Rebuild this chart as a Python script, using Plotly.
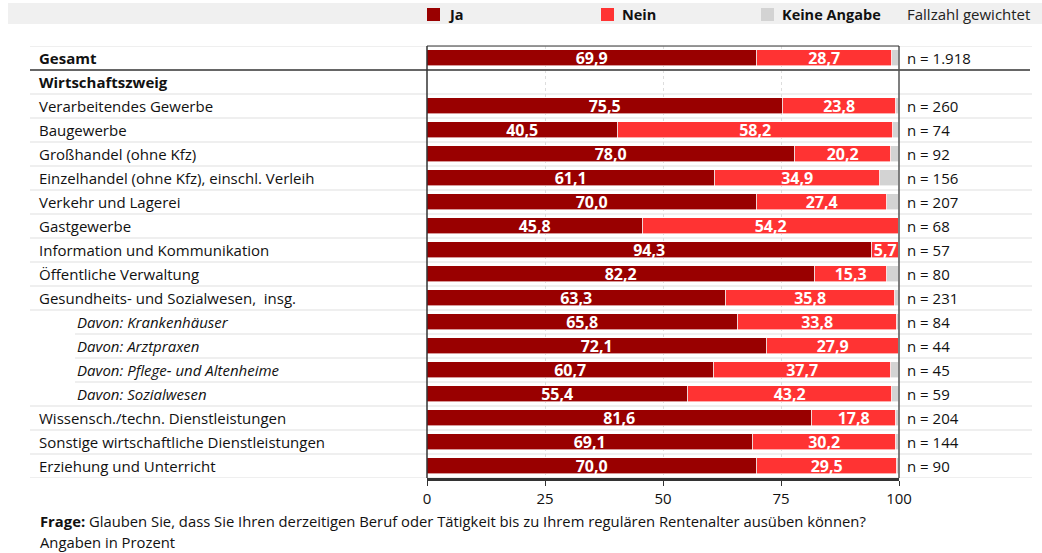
import plotly.graph_objects as go

categories = [
    "Gesamt", "Wirtschaftszweig", "Verarbeitendes Gewerbe", "Baugewerbe",
    "Großhandel (ohne Kfz)", "Einzelhandel (ohne Kfz), einschl. Verleih",
    "Verkehr und Lagerei", "Gastgewerbe", "Information und Kommunikation",
    "Öffentliche Verwaltung", "Gesundheits- und Sozialwesen,  insg.",
    "Davon: Krankenhäuser", "Davon: Arztpraxen", "Davon: Pflege- und Altenheime",
    "Davon: Sozialwesen", "Wissensch./techn. Dienstleistungen",
    "Sonstige wirtschaftliche Dienstleistungen", "Erziehung und Unterricht",
]
ja = [69.9, None, 75.5, 40.5, 78.0, 61.1, 70.0, 45.8, 94.3, 82.2, 63.3, 65.8, 72.1, 60.7, 55.4, 81.6, 69.1, 70.0]
nein = [28.7, None, 23.8, 58.2, 20.2, 34.9, 27.4, 54.2, 5.7, 15.3, 35.8, 33.8, 27.9, 37.7, 43.2, 17.8, 30.2, 29.5]
keine = [1.4, None, 0.7, 1.3, 1.8, 4.0, 2.6, 0.0, 0.0, 2.5, 0.9, 0.4, 0.0, 1.6, 1.4, 0.6, 0.7, 0.5]
fallzahl = ["n = 1.918", "", "n = 260", "n = 74", "n = 92", "n = 156", "n = 207", "n = 68", "n = 57",
            "n = 80", "n = 231", "n = 84", "n = 44", "n = 45", "n = 59", "n = 204", "n = 144", "n = 90"]
x_ticks = [0, 25, 50, 75, 100]

C_JA = "#990000"
C_NEIN = "#FF3333"
C_KEINE = "#D3D3D3"
FONT = "Open Sans"
FS = 15

W, H = 1042, 553
L, R, T, B = 427, 899, 46, 478
pw, ph = R - L, B - T


def px(x):
    return (x - L) / pw


def py(y):
    return (B - y) / ph


def fmt(v):
    return "" if v is None else f"{v:.1f}".replace(".", ",")


ypos = list(range(len(categories)))

fig = go.Figure()
for vals, col, show_text in [(ja, C_JA, True), (nein, C_NEIN, True), (keine, C_KEINE, False)]:
    fig.add_trace(go.Bar(
        y=ypos, x=vals, orientation="h", marker=dict(color=col, line=dict(color="white", width=0.6)),
        width=0.66,
        text=[f"<b>{fmt(v)}</b>" if (show_text and v) else "" for v in vals],
        textposition="inside", insidetextanchor="middle", textangle=0, constraintext="none",
        textfont=dict(color="white", size=16, family=FONT),
        cliponaxis=False,
        showlegend=False, hoverinfo="skip",
    ))

shapes = []
# legend band
shapes.append(dict(type="rect", xref="paper", yref="paper", x0=px(8), x1=px(1042), y0=py(24), y1=py(3),
                   fillcolor="#F0F0F0", line=dict(width=0), layer="below"))
# row separators
for i in range(len(categories) + 1):
    yb = i - 0.5
    x0 = 30
    if 0 < i < len(categories):
        if categories[i - 1].startswith("Davon") and categories[i].startswith("Davon"):
            x0 = 75
    if i == 1:
        continue
    shapes.append(dict(type="line", xref="paper", yref="y", x0=px(x0), x1=px(1032), y0=yb, y1=yb,
                       line=dict(color="#EFEFEF", width=2), layer="below"))
# dark line under Gesamt
shapes.append(dict(type="line", xref="paper", yref="y", x0=px(30), x1=px(1030), y0=0.5, y1=0.5,
                   line=dict(color="#666666", width=2)))
# frame
shapes.append(dict(type="line", xref="paper", yref="paper", x0=0, x1=0, y0=0, y1=1, line=dict(color="#333333", width=1.5)))
shapes.append(dict(type="line", xref="paper", yref="paper", x0=1, x1=1, y0=0, y1=1, line=dict(color="#555555", width=1.5)))
shapes.append(dict(type="line", xref="paper", yref="paper", x0=0, x1=1, y0=1, y1=1, line=dict(color="#333333", width=1)))

# legend squares
leg = [(427, C_JA, "Ja"), (601, C_NEIN, "Nein"), (761, C_KEINE, "Keine Angabe")]
annotations = []
for x, col, label in leg:
    shapes.append(dict(type="rect", xref="paper", yref="paper", x0=px(x), x1=px(x + 13), y0=py(21), y1=py(8),
                       fillcolor=col, line=dict(width=0)))
    annotations.append(dict(xref="paper", yref="paper", x=px(x + 19), y=py(14.5), xanchor="left", yanchor="middle",
                            text=f"<b>{label}</b>", showarrow=False, font=dict(size=14.5, color="#111111", family=FONT)))
annotations.append(dict(xref="paper", yref="paper", x=px(905), y=py(14.5), xanchor="left", yanchor="middle",
                        text="Fallzahl gewichtet", showarrow=False, font=dict(size=FS, color="#222222", family=FONT)))

# category labels and n
for i, cat in enumerate(categories):
    if cat.startswith("Davon"):
        txt, x = f"<i>{cat}</i>", 75
    elif cat in ("Gesamt", "Wirtschaftszweig"):
        txt, x = f"<b>{cat}</b>", 37
    else:
        txt, x = cat, 37
    annotations.append(dict(xref="paper", yref="y", x=px(x), y=i, xanchor="left", yanchor="middle",
                            text=txt, showarrow=False, font=dict(size=FS, color="#111111", family=FONT)))
    if fallzahl[i]:
        annotations.append(dict(xref="paper", yref="y", x=px(905), y=i, xanchor="left", yanchor="middle",
                                text=fallzahl[i], showarrow=False, font=dict(size=FS, color="#111111", family=FONT)))

# footer
annotations.append(dict(xref="paper", yref="paper", x=px(38), y=py(521), xanchor="left", yanchor="middle",
                        text="<b>Frage:</b> Glauben Sie, dass Sie Ihren derzeitigen Beruf oder Tätigkeit bis zu Ihrem regulären Rentenalter ausüben können?",
                        showarrow=False, font=dict(size=14.8, color="#111111", family=FONT)))
annotations.append(dict(xref="paper", yref="paper", x=px(38), y=py(542), xanchor="left", yanchor="middle",
                        text="Angaben in Prozent", showarrow=False, font=dict(size=14.8, color="#111111", family=FONT)))

fig.update_layout(
    width=W, height=H, barmode="stack", bargap=0,
    margin=dict(l=L, r=W - R, t=T, b=H - B, pad=0),
    plot_bgcolor="white", paper_bgcolor="white",
    font=dict(family=FONT, size=FS, color="#111111"),
    xaxis=dict(range=[0, 100], tickvals=x_ticks, ticktext=[str(t) for t in x_ticks],
               showgrid=True, gridcolor="#DDDDDD", griddash="dot", gridwidth=1,
               showline=True, linecolor="#333333", linewidth=2.5, ticks="outside", ticklen=5,
               tickcolor="#333333", tickfont=dict(size=FS, family=FONT, color="#111111"), zeroline=False,
               fixedrange=True),
    yaxis=dict(range=[len(categories) - 0.5, -0.5], showticklabels=False, showgrid=False, zeroline=False,
               showline=False, ticks="", fixedrange=True),
    shapes=shapes, annotations=annotations,
    uniformtext=dict(mode=False),
)

fig.write_html("out.html")
